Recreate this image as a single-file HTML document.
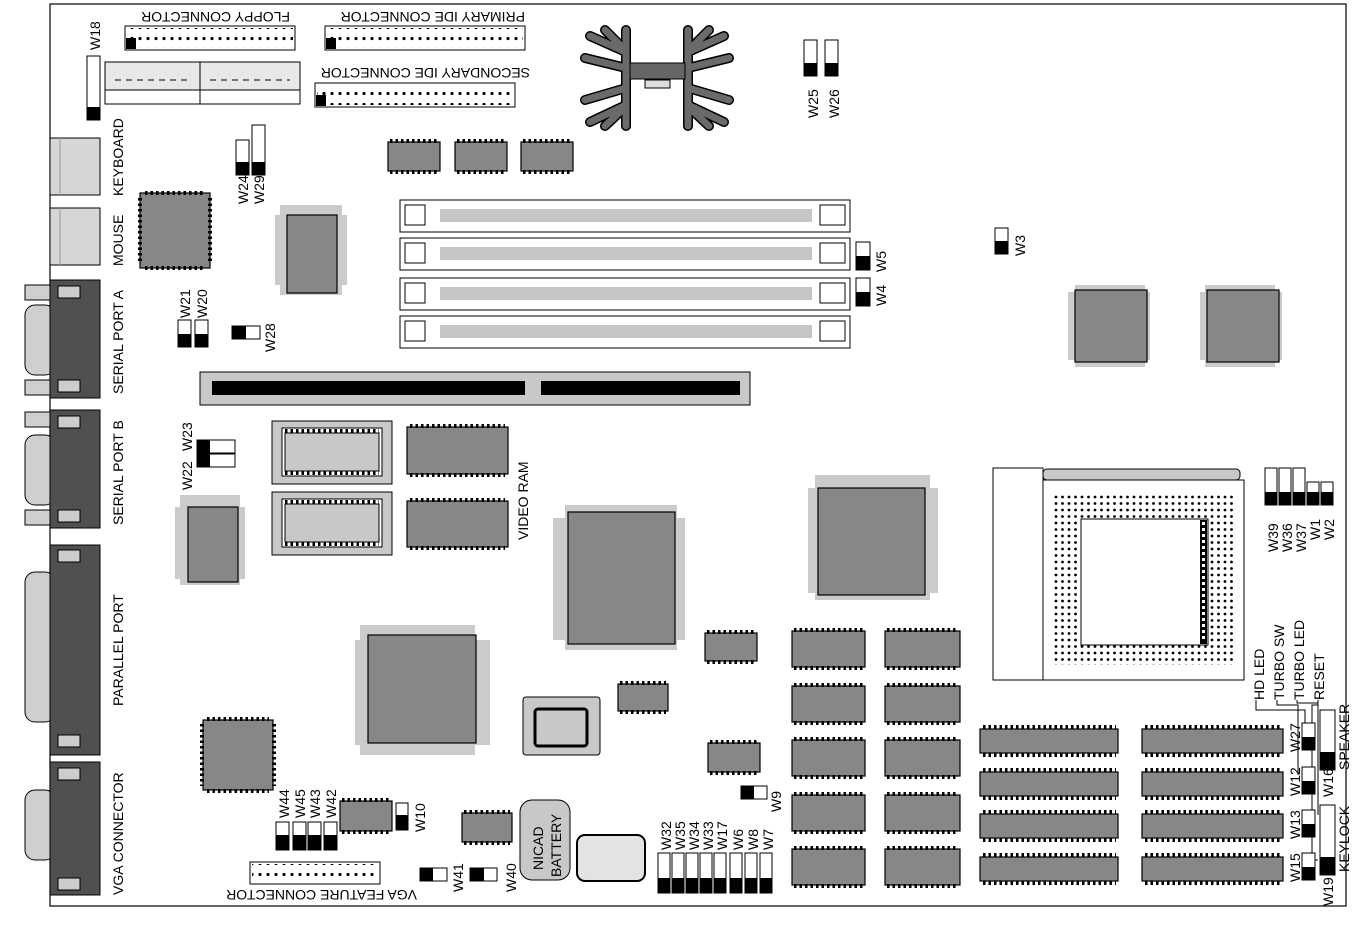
<!DOCTYPE html>
<html><head><meta charset="utf-8"><style>
html,body{margin:0;padding:0;background:#fff}
svg{display:block}
text{font-family:"Liberation Sans",sans-serif;font-size:14px;fill:#000}
.c{fill:#87878a;stroke:#000;stroke-width:1.2}
.sh{fill:#cbcbcb}
.p{stroke:#000;stroke-width:4;stroke-dasharray:2.5 3;fill:none}
.lg{fill:#cfcfcf;stroke:#000;stroke-width:1}
.dk{fill:#505050;stroke:#000;stroke-width:1}
.w{fill:#fff;stroke:#000;stroke-width:1}
.b{fill:#000}
</style></head><body>
<svg width="1357" height="933" viewBox="0 0 1357 933" xmlns="http://www.w3.org/2000/svg">
<defs>
<pattern id="dots" width="6.5" height="6.5" patternUnits="userSpaceOnUse"><circle cx="3" cy="3" r="1.4" fill="#000"/></pattern>
<pattern id="hd" width="8" height="11" patternUnits="userSpaceOnUse"><circle cx="4" cy="5.5" r="1.6" fill="#000"/></pattern>
</defs>
<rect x="50" y="4" width="1296" height="902" fill="none" stroke="#000" stroke-width="1.2"/>

<!-- floppy / IDE -->
<text transform="translate(290,12) rotate(180)">FLOPPY CONNECTOR</text>
<rect x="125" y="26" width="170" height="24" class="w"/><rect x="127" y="28" width="166" height="20" fill="url(#hd)"/><rect x="126" y="38" width="10" height="11" class="b"/>
<text transform="translate(525,12) rotate(180)">PRIMARY IDE CONNECTOR</text>
<rect x="325" y="26" width="200" height="24" class="w"/><rect x="327" y="28" width="196" height="20" fill="url(#hd)"/><rect x="326" y="38" width="10" height="11" class="b"/>
<text transform="translate(530,68) rotate(180)">SECONDARY IDE CONNECTOR</text>
<rect x="315" y="83" width="200" height="24" class="w"/><rect x="317" y="85" width="196" height="20" fill="url(#hd)"/><rect x="316" y="95" width="10" height="11" class="b"/>
<!-- power connector -->
<rect x="105" y="62" width="195" height="42" fill="#fff" stroke="#000"/>
<rect x="105" y="62" width="195" height="28" fill="#e8e8e8" stroke="#000"/>
<line x1="200" y1="62" x2="200" y2="104" stroke="#000"/>
<line x1="115" y1="80" x2="190" y2="80" stroke="#000" stroke-dasharray="6 5"/>
<line x1="210" y1="80" x2="290" y2="80" stroke="#000" stroke-dasharray="6 5"/>
<!-- W18 -->
<rect x="87" y="56" width="13" height="64" class="w"/><rect x="87" y="107" width="13" height="13" class="b"/>
<text transform="translate(100,50) rotate(-90)">W18</text>

<!-- heatsink -->
<g stroke="#000" stroke-width="10" stroke-linecap="round" fill="none">
<path d="M626 30V126M688 30V126M626 52L590 36M626 68L585 58M626 88L585 100M626 105L590 122M620 45L605 30M620 112L605 126M688 52L724 36M688 68L729 58M688 88L729 100M688 105L724 122M694 45L709 30M694 112L709 126"/></g>
<g stroke="#6a6a6a" stroke-width="7" stroke-linecap="round" fill="none">
<path d="M626 30V126M688 30V126M626 52L590 36M626 68L585 58M626 88L585 100M626 105L590 122M620 45L605 30M620 112L605 126M688 52L724 36M688 68L729 58M688 88L729 100M688 105L724 122M694 45L709 30M694 112L709 126"/></g>
<rect x="630" y="63" width="55" height="16" fill="#666" stroke="#000"/>
<rect x="645" y="80" width="25" height="8" fill="#ddd" stroke="#000"/>

<!-- W25 W26 -->
<rect x="804" y="40" width="13" height="36" class="w"/><rect x="804" y="63" width="13" height="13" class="b"/>
<rect x="825" y="40" width="13" height="36" class="w"/><rect x="825" y="63" width="13" height="13" class="b"/>
<text transform="translate(818,118) rotate(-90)">W25</text>
<text transform="translate(839,118) rotate(-90)">W26</text>

<!-- keyboard/mouse -->
<rect x="50" y="138" width="50" height="57" fill="#d6d6d6" stroke="#000"/><line x1="60" y1="138" x2="60" y2="195" stroke="#999"/>
<rect x="50" y="208" width="50" height="57" fill="#d6d6d6" stroke="#000"/><line x1="60" y1="208" x2="60" y2="265" stroke="#999"/>
<text transform="translate(123,196) rotate(-90)">KEYBOARD</text>
<text transform="translate(123,266) rotate(-90)">MOUSE</text>

<!-- PLCC chip -->
<rect x="140" y="193" width="70" height="75" class="c"/>
<path class="p" d="M145 193H205M145 268H205M140 198V263M210 198V263" stroke-width="3"/>
<!-- W24 W29 -->
<rect x="236" y="140" width="13" height="35" class="w"/><rect x="236" y="162" width="13" height="13" class="b"/>
<rect x="252" y="125" width="13" height="50" class="w"/><rect x="252" y="162" width="13" height="13" class="b"/>
<text transform="translate(248,204) rotate(-90)">W24</text>
<text transform="translate(264,204) rotate(-90)">W29</text>
<!-- chip with shadow -->
<rect x="275" y="215" width="72" height="70" class="sh"/><rect x="280" y="205" width="62" height="90" class="sh"/>
<rect x="287" y="215" width="50" height="78" class="c"/>
<!-- small chips -->
<rect x="388" y="142" width="52" height="29" class="c"/><path class="p" d="M390 141H438M390 172H438" stroke-width="3"/>
<rect x="455" y="142" width="52" height="29" class="c"/><path class="p" d="M457 141H505M457 172H505" stroke-width="3"/>
<rect x="521" y="142" width="52" height="29" class="c"/><path class="p" d="M523 141H571M523 172H571" stroke-width="3"/>

<!-- DIMM slots -->
<g>
<rect x="400" y="200" width="450" height="32" class="w"/><rect x="440" y="209" width="372" height="13" fill="#c6c6c6"/><path d="M405 205h20v20h-20zM820 205h25v20h-25z" fill="none" stroke="#000"/>
<rect x="400" y="238" width="450" height="32" class="w"/><rect x="440" y="247" width="372" height="13" fill="#c6c6c6"/><path d="M405 243h20v20h-20zM820 243h25v20h-25z" fill="none" stroke="#000"/>
<rect x="400" y="278" width="450" height="32" class="w"/><rect x="440" y="287" width="372" height="13" fill="#c6c6c6"/><path d="M405 283h20v20h-20zM820 283h25v20h-25z" fill="none" stroke="#000"/>
<rect x="400" y="316" width="450" height="32" class="w"/><rect x="440" y="325" width="372" height="13" fill="#c6c6c6"/><path d="M405 321h20v20h-20zM820 321h25v20h-25z" fill="none" stroke="#000"/>
</g>
<rect x="856" y="242" width="14" height="28" class="w"/><rect x="856" y="256" width="14" height="14" class="b"/>
<rect x="856" y="278" width="14" height="28" class="w"/><rect x="856" y="292" width="14" height="14" class="b"/>
<text transform="translate(886,272) rotate(-90)">W5</text>
<text transform="translate(886,306) rotate(-90)">W4</text>
<rect x="995" y="228" width="13" height="26" class="w"/><rect x="995" y="241" width="13" height="13" class="b"/>
<text transform="translate(1025,256) rotate(-90)">W3</text>

<!-- big right chips -->
<rect x="1068" y="292" width="82" height="68" class="sh"/><rect x="1075" y="285" width="70" height="82" class="sh"/><rect x="1075" y="290" width="72" height="72" class="c"/>
<rect x="1200" y="292" width="82" height="68" class="sh"/><rect x="1205" y="285" width="70" height="82" class="sh"/><rect x="1207" y="290" width="72" height="72" class="c"/>

<!-- serial A -->
<rect x="25" y="285" width="25" height="15" class="lg"/><rect x="25" y="380" width="25" height="15" class="lg"/>
<rect x="25" y="305" width="30" height="70" rx="10" class="lg"/>
<rect x="50" y="280" width="50" height="118" class="dk"/>
<rect x="58" y="286" width="22" height="12" fill="#ccc" stroke="#000"/><rect x="58" y="380" width="22" height="12" fill="#ccc" stroke="#000"/>
<text transform="translate(123,394) rotate(-90)">SERIAL PORT A</text>
<!-- serial B -->
<rect x="25" y="412" width="25" height="15" class="lg"/><rect x="25" y="510" width="25" height="15" class="lg"/>
<rect x="25" y="435" width="30" height="70" rx="10" class="lg"/>
<rect x="50" y="410" width="50" height="118" class="dk"/>
<rect x="58" y="416" width="22" height="12" fill="#ccc" stroke="#000"/><rect x="58" y="510" width="22" height="12" fill="#ccc" stroke="#000"/>
<text transform="translate(123,525) rotate(-90)">SERIAL PORT B</text>
<!-- parallel -->
<rect x="25" y="572" width="30" height="150" rx="10" class="lg"/>
<rect x="50" y="545" width="50" height="210" class="dk"/>
<rect x="58" y="550" width="22" height="12" fill="#ccc" stroke="#000"/><rect x="58" y="735" width="22" height="12" fill="#ccc" stroke="#000"/>
<text transform="translate(123,706) rotate(-90)">PARALLEL PORT</text>
<!-- VGA -->
<rect x="25" y="790" width="30" height="70" rx="10" class="lg"/>
<rect x="50" y="762" width="50" height="133" class="dk"/>
<rect x="58" y="768" width="22" height="12" fill="#ccc" stroke="#000"/><rect x="58" y="878" width="22" height="12" fill="#ccc" stroke="#000"/>
<text transform="translate(123,895) rotate(-90)">VGA CONNECTOR</text>

<!-- W21 W20 W28 -->
<rect x="178" y="320" width="13" height="27" class="w"/><rect x="178" y="334" width="13" height="13" class="b"/>
<rect x="195" y="320" width="13" height="27" class="w"/><rect x="195" y="334" width="13" height="13" class="b"/>
<text transform="translate(190,318) rotate(-90)">W21</text>
<text transform="translate(207,318) rotate(-90)">W20</text>
<rect x="232" y="326" width="28" height="13" class="w"/><rect x="232" y="326" width="14" height="13" class="b"/>
<text transform="translate(275,352) rotate(-90)">W28</text>

<!-- ISA slot -->
<rect x="200" y="372" width="550" height="33" fill="#c8c8c8" stroke="#000"/>
<rect x="212" y="381" width="313" height="14" class="b"/><rect x="541" y="381" width="199" height="14" class="b"/>

<!-- W22 W23 -->
<rect x="197" y="440" width="38" height="13" class="w"/><rect x="197" y="440" width="13" height="13" class="b"/>
<rect x="197" y="454" width="38" height="13" class="w"/><rect x="197" y="454" width="13" height="13" class="b"/>
<text transform="translate(192,490) rotate(-90)">W22</text>
<text transform="translate(192,451) rotate(-90)">W23</text>

<!-- sockets -->
<rect x="272" y="421" width="120" height="63" fill="#c8c8c8" stroke="#000"/><rect x="282" y="428" width="100" height="48" class="w"/><rect x="285" y="433" width="94" height="38" fill="#c8c8c8" stroke="#000"/><path class="p" d="M285 431H379M285 473H379" stroke-width="3"/>
<rect x="272" y="492" width="120" height="63" fill="#c8c8c8" stroke="#000"/><rect x="282" y="499" width="100" height="48" class="w"/><rect x="285" y="504" width="94" height="38" fill="#c8c8c8" stroke="#000"/><path class="p" d="M285 502H379M285 544H379" stroke-width="3"/>
<!-- video ram -->
<rect x="407" y="427" width="101" height="47" class="c"/><path class="p" d="M410 426H505M410 475H505" stroke-width="3"/>
<rect x="407" y="501" width="101" height="46" class="c"/><path class="p" d="M410 500H505M410 548H505" stroke-width="3"/>
<text transform="translate(528,540) rotate(-90)">VIDEO RAM</text>

<!-- left chip shadow -->
<rect x="175" y="507" width="70" height="72" class="sh"/><rect x="180" y="495" width="60" height="90" class="sh"/><rect x="188" y="507" width="50" height="75" class="c"/>

<!-- big center chip -->
<rect x="553" y="518" width="132" height="122" class="sh"/><rect x="565" y="505" width="112" height="145" class="sh"/><rect x="568" y="512" width="107" height="132" class="c"/>
<rect x="808" y="488" width="130" height="105" class="sh"/><rect x="815" y="475" width="115" height="125" class="sh"/><rect x="818" y="488" width="107" height="107" class="c"/>
<rect x="355" y="640" width="135" height="105" class="sh"/><rect x="360" y="625" width="115" height="130" class="sh"/><rect x="368" y="635" width="108" height="108" class="c"/>

<!-- CPU socket -->
<rect x="993" y="468" width="50" height="212" class="w"/>
<rect x="1043" y="480" width="201" height="200" class="w"/>
<rect x="1043" y="469" width="197" height="11" rx="4" fill="#c8c8c8" stroke="#000"/>
<rect x="1053" y="495" width="182" height="170" fill="url(#dots)"/>
<rect x="1081" y="519" width="127" height="126" class="w"/>
<rect x="1200" y="520" width="7" height="124" fill="#000"/>
<line x1="1203.5" y1="522" x2="1203.5" y2="642" stroke="#fff" stroke-width="3" stroke-dasharray="3 3"/>

<!-- W39 W36 W37 W1 W2 -->
<rect x="1265" y="468" width="12" height="37" class="w"/><rect x="1265" y="492" width="12" height="13" class="b"/>
<rect x="1279" y="468" width="12" height="37" class="w"/><rect x="1279" y="492" width="12" height="13" class="b"/>
<rect x="1293" y="468" width="12" height="37" class="w"/><rect x="1293" y="492" width="12" height="13" class="b"/>
<rect x="1307" y="482" width="12" height="23" class="w"/><rect x="1307" y="492" width="12" height="13" class="b"/>
<rect x="1321" y="482" width="12" height="23" class="w"/><rect x="1321" y="492" width="12" height="13" class="b"/>
<text transform="translate(1278,552) rotate(-90)">W39</text>
<text transform="translate(1292,552) rotate(-90)">W36</text>
<text transform="translate(1306,552) rotate(-90)">W37</text>
<text transform="translate(1320,540) rotate(-90)">W1</text>
<text transform="translate(1334,540) rotate(-90)">W2</text>

<!-- LED labels -->
<text transform="translate(1264,700) rotate(-90)">HD LED</text>
<text transform="translate(1284,700) rotate(-90)">TURBO SW</text>
<text transform="translate(1304,700) rotate(-90)">TURBO LED</text>
<text transform="translate(1324,700) rotate(-90)">RESET</text>
<path d="M1256 700V710H1305V730M1277 700V705H1298V775M1297 700V703H1318V815M1318 700V705H1312V860H1318" fill="none" stroke="#000"/>

<!-- small chips middle -->
<rect x="705" y="633" width="52" height="28" class="c"/><path class="p" d="M707 632H755M707 662H755" stroke-width="3"/>
<rect x="618" y="684" width="50" height="27" class="c"/><path class="p" d="M620 683H666M620 712H666" stroke-width="3"/>
<rect x="708" y="743" width="52" height="29" class="c"/><path class="p" d="M710 742H758M710 773H758" stroke-width="3"/>
<rect x="462" y="813" width="50" height="29" class="c"/><path class="p" d="M464 812H510M464 843H510" stroke-width="3"/>
<rect x="340" y="801" width="52" height="30" class="c"/><path class="p" d="M342 800H390M342 832H390" stroke-width="3"/>
<!-- memory chips columns -->
<g>
<rect x="792" y="631" width="73" height="36" class="c"/><path class="p" d="M794 630H863M794 668H863" stroke-width="3"/>
<rect x="792" y="686" width="73" height="36" class="c"/><path class="p" d="M794 685H863M794 723H863" stroke-width="3"/>
<rect x="792" y="740" width="73" height="36" class="c"/><path class="p" d="M794 739H863M794 777H863" stroke-width="3"/>
<rect x="792" y="795" width="73" height="36" class="c"/><path class="p" d="M794 794H863M794 832H863" stroke-width="3"/>
<rect x="792" y="849" width="73" height="36" class="c"/><path class="p" d="M794 848H863M794 886H863" stroke-width="3"/>
<rect x="885" y="631" width="75" height="36" class="c"/><path class="p" d="M887 630H958M887 668H958" stroke-width="3"/>
<rect x="885" y="686" width="75" height="36" class="c"/><path class="p" d="M887 685H958M887 723H958" stroke-width="3"/>
<rect x="885" y="740" width="75" height="36" class="c"/><path class="p" d="M887 739H958M887 777H958" stroke-width="3"/>
<rect x="885" y="795" width="75" height="36" class="c"/><path class="p" d="M887 794H958M887 832H958" stroke-width="3"/>
<rect x="885" y="849" width="75" height="36" class="c"/><path class="p" d="M887 848H958M887 886H958" stroke-width="3"/>
</g>
<!-- right SIMM chips -->
<g>
<rect x="980" y="729" width="138" height="24" class="c"/><path class="p" d="M983 727H1116M983 755H1116" stroke-width="4"/>
<rect x="980" y="772" width="138" height="24" class="c"/><path class="p" d="M983 770H1116M983 798H1116" stroke-width="4"/>
<rect x="980" y="814" width="138" height="24" class="c"/><path class="p" d="M983 812H1116M983 840H1116" stroke-width="4"/>
<rect x="980" y="857" width="138" height="24" class="c"/><path class="p" d="M983 855H1116M983 883H1116" stroke-width="4"/>
<rect x="1142" y="729" width="141" height="24" class="c"/><path class="p" d="M1145 727H1281M1145 755H1281" stroke-width="4"/>
<rect x="1142" y="772" width="141" height="24" class="c"/><path class="p" d="M1145 770H1281M1145 798H1281" stroke-width="4"/>
<rect x="1142" y="814" width="141" height="24" class="c"/><path class="p" d="M1145 812H1281M1145 840H1281" stroke-width="4"/>
<rect x="1142" y="857" width="141" height="24" class="c"/><path class="p" d="M1145 855H1281M1145 883H1281" stroke-width="4"/>
</g>
<!-- W27 W12 W13 W15 -->
<rect x="1302" y="723" width="13" height="27" class="w"/><rect x="1302" y="737" width="13" height="13" class="b"/>
<rect x="1302" y="767" width="13" height="27" class="w"/><rect x="1302" y="781" width="13" height="13" class="b"/>
<rect x="1302" y="810" width="13" height="27" class="w"/><rect x="1302" y="824" width="13" height="13" class="b"/>
<rect x="1302" y="853" width="13" height="27" class="w"/><rect x="1302" y="867" width="13" height="13" class="b"/>
<text transform="translate(1300,752) rotate(-90)">W27</text>
<text transform="translate(1300,796) rotate(-90)">W12</text>
<text transform="translate(1300,839) rotate(-90)">W13</text>
<text transform="translate(1300,882) rotate(-90)">W15</text>
<rect x="1320" y="710" width="15" height="60" class="w"/><rect x="1320" y="752" width="15" height="18" class="b"/>
<rect x="1320" y="805" width="15" height="70" class="w"/><rect x="1320" y="857" width="15" height="18" class="b"/>
<text transform="translate(1333,797) rotate(-90)">W16</text>
<text transform="translate(1333,906) rotate(-90)">W19</text>
<text transform="translate(1349,770) rotate(-90)">SPEAKER</text>
<text transform="translate(1349,872) rotate(-90)">KEYLOCK</text>

<!-- W9 -->
<rect x="741" y="786" width="26" height="13" class="w"/><rect x="741" y="786" width="13" height="13" class="b"/>
<text transform="translate(781,812) rotate(-90)">W9</text>

<!-- lower left -->
<rect x="203" y="720" width="70" height="70" class="c"/>
<path class="p" d="M207 719H269M207 791H269M202 724V786M274 724V786" stroke-width="3"/>
<rect x="276" y="822" width="13" height="28" class="w"/><rect x="276" y="835" width="13" height="15" class="b"/>
<rect x="293" y="822" width="13" height="28" class="w"/><rect x="293" y="835" width="13" height="15" class="b"/>
<rect x="308" y="822" width="13" height="28" class="w"/><rect x="308" y="835" width="13" height="15" class="b"/>
<rect x="324" y="822" width="13" height="28" class="w"/><rect x="324" y="835" width="13" height="15" class="b"/>
<text transform="translate(289,818) rotate(-90)">W44</text>
<text transform="translate(305,818) rotate(-90)">W45</text>
<text transform="translate(320,818) rotate(-90)">W43</text>
<text transform="translate(336,818) rotate(-90)">W42</text>
<rect x="396" y="803" width="12" height="27" class="w"/><rect x="396" y="815" width="12" height="15" class="b"/>
<text transform="translate(425,832) rotate(-90)">W10</text>
<rect x="250" y="862" width="130" height="22" class="w"/><rect x="252" y="864" width="126" height="18" fill="url(#hd)"/>
<text transform="translate(417,890) rotate(180)">VGA FEATURE CONNECTOR</text>
<rect x="420" y="868" width="27" height="13" class="w"/><rect x="420" y="868" width="13" height="13" class="b"/>
<text transform="translate(463,892) rotate(-90)">W41</text>
<rect x="470" y="868" width="27" height="13" class="w"/><rect x="470" y="868" width="14" height="13" class="b"/>
<text transform="translate(516,892) rotate(-90)">W40</text>
<rect x="520" y="800" width="50" height="80" rx="12" fill="#c8c8c8" stroke="#000"/>
<text transform="translate(543,870) rotate(-90)">NICAD</text>
<text transform="translate(561,877) rotate(-90)">BATTERY</text>
<rect x="577" y="835" width="68" height="46" rx="8" fill="#e3e3e3" stroke="#000" stroke-width="2"/>
<rect x="523" y="697" width="77" height="58" rx="3" fill="#c8c8c8" stroke="#000"/>
<rect x="535" y="709" width="52" height="37" rx="3" fill="#c8c8c8" stroke="#000" stroke-width="3"/>

<!-- W32..W7 -->
<g>
<rect x="658" y="853" width="12" height="40" class="w"/><rect x="658" y="878" width="12" height="15" class="b"/>
<rect x="672" y="853" width="12" height="40" class="w"/><rect x="672" y="878" width="12" height="15" class="b"/>
<rect x="686" y="853" width="12" height="40" class="w"/><rect x="686" y="878" width="12" height="15" class="b"/>
<rect x="700" y="853" width="12" height="40" class="w"/><rect x="700" y="878" width="12" height="15" class="b"/>
<rect x="714" y="853" width="12" height="40" class="w"/><rect x="714" y="878" width="12" height="15" class="b"/>
<rect x="730" y="853" width="12" height="40" class="w"/><rect x="730" y="878" width="12" height="15" class="b"/>
<rect x="745" y="853" width="12" height="40" class="w"/><rect x="745" y="878" width="12" height="15" class="b"/>
<rect x="760" y="853" width="12" height="40" class="w"/><rect x="760" y="878" width="12" height="15" class="b"/>
</g>
<text transform="translate(671,850) rotate(-90)">W32</text>
<text transform="translate(685,850) rotate(-90)">W35</text>
<text transform="translate(699,850) rotate(-90)">W34</text>
<text transform="translate(713,850) rotate(-90)">W33</text>
<text transform="translate(727,850) rotate(-90)">W17</text>
<text transform="translate(743,850) rotate(-90)">W6</text>
<text transform="translate(758,850) rotate(-90)">W8</text>
<text transform="translate(773,850) rotate(-90)">W7</text>
</svg>
</body></html>
